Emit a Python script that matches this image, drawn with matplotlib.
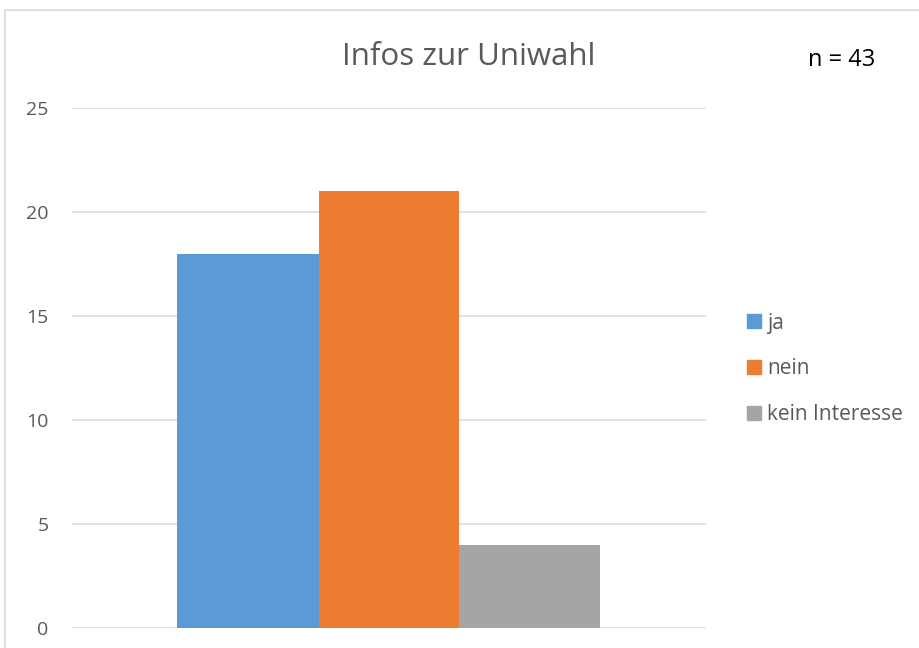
import matplotlib
matplotlib.use("Agg")
import matplotlib.pyplot as plt
from matplotlib.patches import Rectangle, Patch

categories = ["ja", "nein", "kein Interesse"]
values = [18, 21, 4]
colors = ["#5b9bd5", "#ed7d31", "#a5a5a5"]
yticks = [0, 5, 10, 15, 20, 25]
title = "Infos zur Uniwahl"
note = "n = 43"

plt.rcParams['font.family'] = ['Open Sans', 'DejaVu Sans']

W, H = 920, 648
fig = plt.figure(figsize=(W/100, H/100), dpi=100)
fig.patch.set_facecolor("white")

# outer chart frame (clipped at right/bottom)
fig.patches.append(Rectangle((4.5/W, -0.05), 1.0, 1 - 9.5/H + 0.05,
                             transform=fig.transFigure, fill=False,
                             edgecolor="#d9d9d9", linewidth=1.2))

x0, x1 = 72, 706
y_top, y_bot = 108, 628
ax = fig.add_axes([x0/W, 1 - y_bot/H, (x1 - x0)/W, (y_bot - y_top)/H])

bw = 141 / (x1 - x0)
center = 0.5 + (389 - (x0 + x1) / 2) / (x1 - x0)
offsets = [-1, 0, 1]
for v, c, o, lab in zip(values, colors, offsets, categories):
    ax.bar(center + o * bw, v, width=bw, color=c, label=lab, zorder=3)

ax.set_xlim(0, 1)
ax.set_ylim(0, 25)
ax.set_yticks(yticks)
ax.set_yticklabels([str(t) for t in yticks], fontsize=14, color="#595959")
ax.set_xticks([])
ax.tick_params(axis='y', length=0, pad=17)
for s in ax.spines.values():
    s.set_visible(False)
ax.yaxis.grid(True, color="#d9d9d9", linewidth=1.1, zorder=0)
ax.set_axisbelow(True)

fig.text(469/W, 1 - 57/H, title, ha="center", va="center",
         fontsize=22.5, color="#595959")
fig.text(842/W, 1 - 60/H, note, ha="center", va="center",
         fontsize=17, color="black")

handles = [Patch(facecolor=c, edgecolor=c) for c in colors]
leg = fig.legend(handles, categories, loc="center left",
                 bbox_to_anchor=(747/W, 1 - 369/H), frameon=False,
                 fontsize=15, handlelength=0.67, handleheight=0.67,
                 handletextpad=0.3, labelspacing=1.2, borderpad=0,
                 borderaxespad=0)
for t in leg.get_texts():
    t.set_color("#595959")

fig.savefig("out.png", dpi=100, facecolor="white")
